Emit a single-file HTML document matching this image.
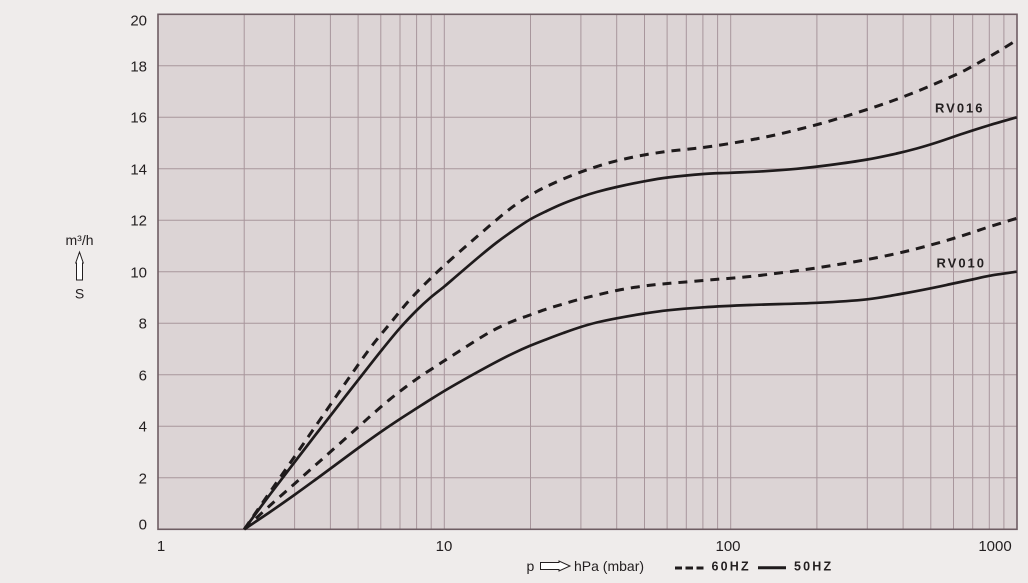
<!DOCTYPE html>
<html>
<head>
<meta charset="utf-8">
<style>
html,body{margin:0;padding:0;background:#efeceb;}
svg{display:block;}
text{font-family:"Liberation Sans",sans-serif;fill:#231f20;}
</style>
</head>
<body>
<svg id="chart" width="1028" height="583" viewBox="0 0 1028 583" xmlns="http://www.w3.org/2000/svg">
<rect x="0" y="0" width="1028" height="583" fill="#efeceb"/>
<rect x="158" y="14.3" width="859" height="515" fill="#dcd4d5"/>
<g stroke="#a8969c" stroke-width="1" fill="none">
<line x1="158" y1="65.8" x2="1017" y2="65.8"/>
<line x1="158" y1="117.3" x2="1017" y2="117.3"/>
<line x1="158" y1="168.8" x2="1017" y2="168.8"/>
<line x1="158" y1="220.3" x2="1017" y2="220.3"/>
<line x1="158" y1="271.8" x2="1017" y2="271.8"/>
<line x1="158" y1="323.3" x2="1017" y2="323.3"/>
<line x1="158" y1="374.8" x2="1017" y2="374.8"/>
<line x1="158" y1="426.3" x2="1017" y2="426.3"/>
<line x1="158" y1="477.8" x2="1017" y2="477.8"/>
<line x1="244.2" y1="14.3" x2="244.2" y2="529.3"/>
<line x1="294.6" y1="14.3" x2="294.6" y2="529.3"/>
<line x1="330.4" y1="14.3" x2="330.4" y2="529.3"/>
<line x1="358.1" y1="14.3" x2="358.1" y2="529.3"/>
<line x1="380.8" y1="14.3" x2="380.8" y2="529.3"/>
<line x1="400.0" y1="14.3" x2="400.0" y2="529.3"/>
<line x1="416.6" y1="14.3" x2="416.6" y2="529.3"/>
<line x1="431.2" y1="14.3" x2="431.2" y2="529.3"/>
<line x1="444.3" y1="14.3" x2="444.3" y2="529.3"/>
<line x1="530.5" y1="14.3" x2="530.5" y2="529.3"/>
<line x1="580.9" y1="14.3" x2="580.9" y2="529.3"/>
<line x1="616.7" y1="14.3" x2="616.7" y2="529.3"/>
<line x1="644.5" y1="14.3" x2="644.5" y2="529.3"/>
<line x1="667.1" y1="14.3" x2="667.1" y2="529.3"/>
<line x1="686.3" y1="14.3" x2="686.3" y2="529.3"/>
<line x1="702.9" y1="14.3" x2="702.9" y2="529.3"/>
<line x1="717.6" y1="14.3" x2="717.6" y2="529.3"/>
<line x1="730.7" y1="14.3" x2="730.7" y2="529.3"/>
<line x1="816.9" y1="14.3" x2="816.9" y2="529.3"/>
<line x1="867.3" y1="14.3" x2="867.3" y2="529.3"/>
<line x1="903.1" y1="14.3" x2="903.1" y2="529.3"/>
<line x1="930.8" y1="14.3" x2="930.8" y2="529.3"/>
<line x1="953.5" y1="14.3" x2="953.5" y2="529.3"/>
<line x1="972.7" y1="14.3" x2="972.7" y2="529.3"/>
<line x1="989.3" y1="14.3" x2="989.3" y2="529.3"/>
<line x1="1003.9" y1="14.3" x2="1003.9" y2="529.3"/>
</g>
<rect x="158" y="14.3" width="859" height="515" fill="none" stroke="#6e5d63" stroke-width="1.6"/>

<g fill="none" stroke="#1f1b1c" stroke-width="2.7" stroke-linejoin="round" stroke-linecap="butt">
<polyline class="crv" points="244.2,529.3 270,494.5 294.3,462.5 315,435.5 333.3,412 348,393 361.7,375.5 383,348.5 400,328 417,310 430,298 444.3,286.5 458.3,274.5 480,256 496.7,242.5 513.3,230.5 530,219.5 546.7,211 563.3,203.5 580.7,197 596.7,192 616.7,187 644.3,181.3 667.7,177.5 703.3,174 730,172.8 763.3,171.3 796.7,168.8 830,165 867.3,159.5 896.7,153.5 916.7,148.5 936.7,142.5 963.3,133.5 990,125 1016.7,117.3"/>
<polyline class="crv" points="244.2,529.3 270,512 294.3,495 315,480 333.3,466.5 358.3,448 380.7,432 400,419 416.7,408.3 430,399.8 444.3,391 463.3,380 480,370.7 496.7,361.7 513.3,353.3 530,345.8 546.7,339.2 563.3,333 580.7,327 596.7,322.5 616.7,318.3 644.3,313.5 667.7,310.3 703.3,307.3 750,305 817.3,302.8 867.3,299.3 903.3,293.5 930.7,288.3 953.3,283.5 972.3,279.5 989.3,275.8 1016.7,271.7"/>
</g>
<g fill="none" stroke="#1f1b1c" stroke-width="3" stroke-linejoin="round" stroke-dasharray="9 7">
<polyline class="crv" points="244.2,529.3 270,492 294.3,457 315,427 333.3,400.5 351,375 371,347 391.3,322 410,299.5 430,279 444.3,265.5 463.3,248.5 480,234 501.7,215.5 518,203 536.7,191.5 553,183.5 571.7,175.5 588,169.5 606.7,163.5 626.7,158.5 646.7,154.5 666.7,151.5 686.7,149.3 706.7,147 730,143.5 750,140 763.3,137.5 781.7,133.5 800,129 819.3,124 838.3,118.5 856.7,112.8 876.7,106.3 893.3,100.5 911.7,93.5 930,86 948.3,78 965,70.3 981.7,61 1000,50.5 1016.7,40"/>
<polyline class="crv" points="244.2,529.3 270,505.5 294.3,484 315,465.5 333.3,449.3 358.3,427 373.3,413.5 389.3,399.8 405,387.5 420,376.7 436.7,365.7 453.3,355 480,338 496.7,328.5 513.3,321 530,315 546.7,309 563.3,304 580.7,299 616.7,290.5 644.3,286 667.7,283.5 703.3,280.5 750,276.5 783,272.5 817.3,267.8 867.3,259.5 903.3,252 930.7,245 953.3,238.5 972.3,232.5 989.3,226.8 1016.7,218.3"/>
</g>

<g font-size="15" text-anchor="end">
<text x="147" y="25.5">20</text>
<text x="147" y="71.3">18</text>
<text x="147" y="122.5">16</text>
<text x="147" y="174.3">14</text>
<text x="147" y="225.5">12</text>
<text x="147" y="277.3">10</text>
<text x="147" y="328.5">8</text>
<text x="147" y="380.3">6</text>
<text x="147" y="431.5">4</text>
<text x="147" y="483.3">2</text>
<text x="147" y="529.5">0</text>
</g>
<g font-size="15" text-anchor="middle">
<text x="161" y="551">1</text>
<text x="444" y="551">10</text>
<text x="728" y="551">100</text>
<text x="995" y="551">1000</text>
</g>

<text x="79.5" y="245" font-size="14" text-anchor="middle">m³/h</text>
<polygon points="79.5,252 83.3,263 82.5,263 82.5,280 76.5,280 76.5,263 75.7,263" fill="#ffffff" stroke="#231f20" stroke-width="1"/>
<text x="79.5" y="298.5" font-size="14" text-anchor="middle">S</text>

<text x="526.5" y="571" font-size="14">p</text>
<polygon points="540.5,562.5 559,562.5 559,561 570,566 559,571 559,569.5 540.5,569.5" fill="#ffffff" stroke="#231f20" stroke-width="1"/>
<text x="574" y="571" font-size="14">hPa (mbar)</text>
<g stroke="#1f1b1c" stroke-width="3">
<line x1="675" y1="568" x2="682" y2="568"/>
<line x1="685.5" y1="568" x2="693" y2="568"/>
<line x1="696.5" y1="568" x2="703.5" y2="568"/>
<line x1="758" y1="567.7" x2="786" y2="567.7"/>
</g>
<text x="711.5" y="570.5" font-size="12.5" font-weight="bold" letter-spacing="2.2">60HZ</text>
<text x="794" y="570.5" font-size="12.5" font-weight="bold" letter-spacing="2.2">50HZ</text>

<text x="935" y="112.7" font-size="13" font-weight="bold" letter-spacing="2">RV016</text>
<text x="936.5" y="267.7" font-size="13" font-weight="bold" letter-spacing="2">RV010</text>
</svg>
<script>
(function(){
  var ns="http://www.w3.org/2000/svg";
  var pls=document.querySelectorAll("polyline.crv");
  for(var k=0;k<pls.length;k++){
    var pl=pls[k];
    var raw=pl.getAttribute("points").trim().split(/\s+/);
    var p=[];
    for(var i=0;i<raw.length;i++){var c=raw[i].split(",");p.push([parseFloat(c[0]),parseFloat(c[1])]);}
    var d="M"+p[0][0]+","+p[0][1];
    for(var i=0;i<p.length-1;i++){
      var p0=p[i>0?i-1:i],p1=p[i],p2=p[i+1],p3=p[i+2<p.length?i+2:i+1];
      var c1x=p1[0]+(p2[0]-p0[0])/6,c1y=p1[1]+(p2[1]-p0[1])/6;
      var c2x=p2[0]-(p3[0]-p1[0])/6,c2y=p2[1]-(p3[1]-p1[1])/6;
      d+=" C"+c1x.toFixed(2)+","+c1y.toFixed(2)+" "+c2x.toFixed(2)+","+c2y.toFixed(2)+" "+p2[0]+","+p2[1];
    }
    var path=document.createElementNS(ns,"path");
    path.setAttribute("d",d);
    pl.parentNode.insertBefore(path,pl);
    pl.parentNode.removeChild(pl);
  }
})();
</script>
</body>
</html>
